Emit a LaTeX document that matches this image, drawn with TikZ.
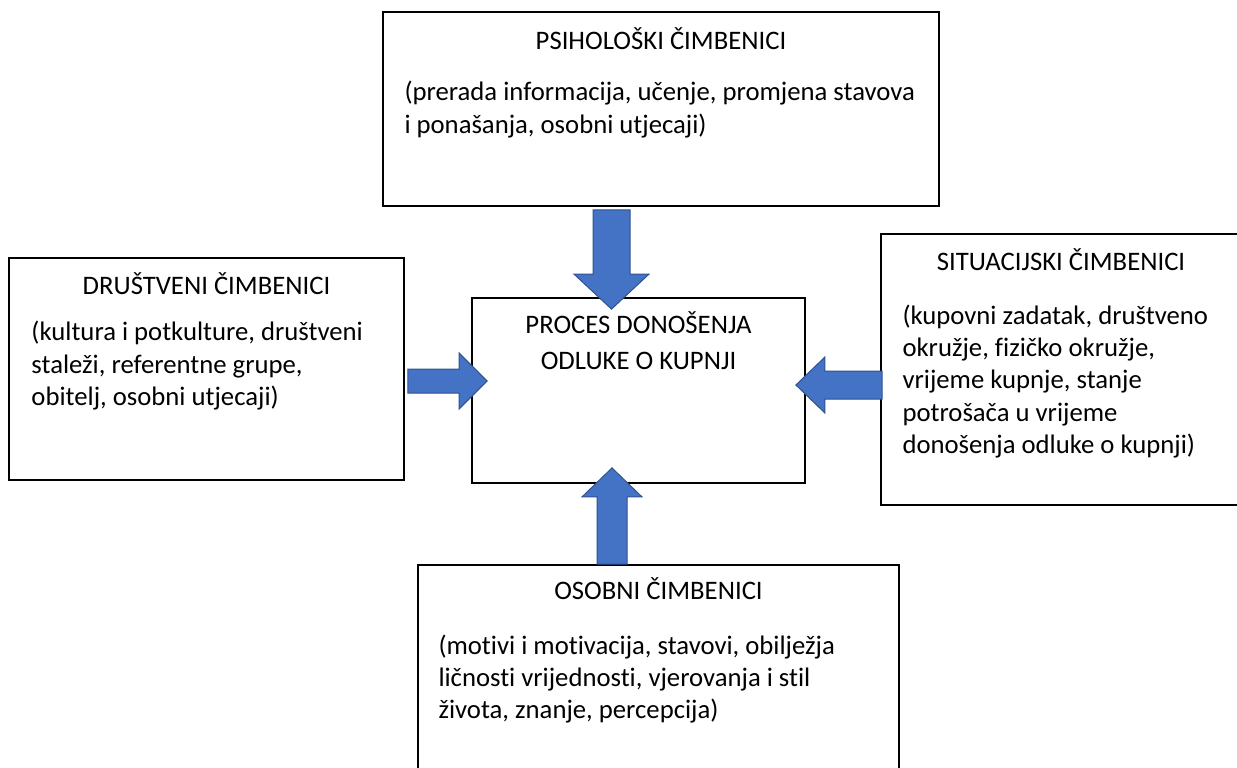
\documentclass[tikz,border=0pt]{standalone}
\usepackage{fontspec}
\setmainfont{Carlito}[Ligatures={TeX,NoCommon}]
\usetikzlibrary{calc}
\definecolor{arrowblue}{HTML}{4472C4}
\definecolor{arrowline}{HTML}{2F528F}

\begin{document}
\begin{tikzpicture}[x=0.5pt,y=-0.5pt,font=\fontsize{13.35}{16.15}\selectfont]
    \tikzstyle{factor}=[rectangle,draw=black,line width=0.9pt,inner sep=0pt]
    \tikzstyle{title}=[anchor=base,inner sep=0pt]
    \tikzstyle{body}=[anchor=base west,align=left,inner sep=0pt]
    \tikzset{block arrow/.style n args={3}{fill=arrowblue,draw=arrowline,line width=0.5pt,
      to path={($(\tikztotarget)!#3!(\tikztostart)$) coordinate (ab)
        ($(\tikztostart)!#1!90:(\tikztotarget)$) -- ($(ab)!#1!90:(\tikztotarget)$)
        -- ($(ab)!#2!90:(\tikztotarget)$) -- (\tikztotarget)
        -- ($(ab)!#2!-90:(\tikztotarget)$) -- ($(ab)!#1!-90:(\tikztotarget)$)
        -- ($(\tikztostart)!#1!-90:(\tikztotarget)$) -- cycle}}}

    \useasboundingbox (0,0) rectangle (1237,767);
    \clip (0,0) rectangle (1237,767);

    % Draw the factor boxes
    \node[factor,minimum width=278pt,minimum height=97pt] (psih) at (661,109) {};
    \node[factor,minimum width=197.5pt,minimum height=111pt] (drus) at (206.5,369) {};
    \node[factor,minimum width=166.5pt,minimum height=92.5pt] (proces) at (638.5,390.5) {};
    \node[factor,minimum width=180pt,minimum height=135.5pt] (situ) at (1061,369.5) {};
    \node[factor,minimum width=240.5pt,minimum height=107.5pt] (osob) at (658.5,672.5) {};

    % Draw the box texts (body anchors sit on the last line)
    \node[title] (psih-t) at ($(psih.north)+(0,38)$) {PSIHOLOŠKI ČIMBENICI};
    \node[body] (psih-b) at ($(psih.north west)+(22,122)$)
      {(prerada informacija, učenje, promjena stavova\\i ponašanja, osobni utjecaji)};
    \node[title] (drus-t) at ($(drus.north)+(0,37)$) {DRUŠTVENI ČIMBENICI};
    \node[body] (drus-b) at ($(drus.north west)+(23,148.3)$)
      {(kultura i potkulture, društveni\\staleži, referentne grupe,\\obitelj, osobni utjecaji)};
    \node[title] (proces-t) at ($(proces.north)+(0,36.3)$) {PROCES DONOŠENJA};
    \node[title] (proces-t2) at ($(proces.north)+(0,72)$) {ODLUKE O KUPNJI};
    \node[title] (situ-t) at ($(situ.north)+(0,37.7)$) {SITUACIJSKI ČIMBENICI};
    \node[body] (situ-b) at ($(situ.north west)+(22,220.2)$)
      {(kupovni zadatak, društveno\\okružje, fizičko okružje,\\vrijeme kupnje, stanje\\potrošača u vrijeme\\donošenja odluke o kupnji)};
    \node[title] (osob-t) at ($(osob.north)+(0,35.7)$) {OSOBNI ČIMBENICI};
    \node[body] (osob-b) at ($(osob.north west)+(21,154.6)$)
      {(motivi i motivacija, stavovi, obilježja\\ličnosti vrijednosti, vjerovanja i stil\\života, znanje, percepcija)};

    % Arrow ends on the boxes
    \coordinate (psih-out) at ($(psih.south)+(-49.5,3)$);
    \coordinate (proces-top) at ($(proces.north)+(-27,12)$);
    \coordinate (drus-out) at ($(drus.east)+(3,12)$);
    \coordinate (proces-left) at ($(proces.west)+(16,-9.5)$);
    \coordinate (situ-out) at ($(situ.west)+(2,15.5)$);
    \coordinate (proces-right) at ($(proces.east)+(-10,-5.5)$);
    \coordinate (osob-out) at ($(osob.north)+(-46.5,0)$);
    \coordinate (proces-bottom) at ($(proces.south)+(-26.5,-16)$);

    % Connect every factor box with the decision process
    \path[block arrow={9.25pt}{18.75pt}{17.5pt}] (psih-out) to (proces-top);
    \path[block arrow={6pt}{14pt}{14pt}] (drus-out) to (proces-left);
    \path[block arrow={7pt}{14pt}{14.5pt}] (situ-out) to (proces-right);
    \path[block arrow={7.5pt}{15pt}{14.5pt}] (osob-out) to (proces-bottom);
\end{tikzpicture}
\end{document}
